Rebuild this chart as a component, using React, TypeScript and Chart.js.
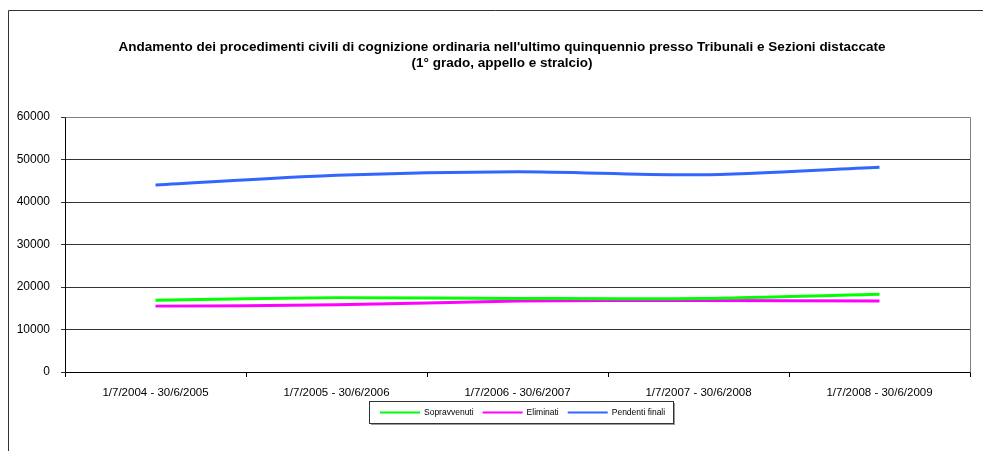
import React, { useEffect, useRef } from "react";
import { Chart, registerables } from "chart.js";

Chart.register(...registerables);

const categories = [
  "1/7/2004 - 30/6/2005",
  "1/7/2005 - 30/6/2006",
  "1/7/2006 - 30/6/2007",
  "1/7/2007 - 30/6/2008",
  "1/7/2008 - 30/6/2009",
];
const sopravvenuti = [16900, 17500, 17300, 17300, 18300];
const eliminati = [15500, 15800, 16700, 16800, 16700];
const pendentiFinali = [44000, 46300, 47100, 46400, 48200];
const seriesNames = ["Sopravvenuti", "Eliminati", "Pendenti finali"];
const yMin = 0;
const yMax = 60000;
const yStep = 10000;
const titleLines = [
  "Andamento dei procedimenti civili di cognizione ordinaria nell'ultimo quinquennio presso Tribunali e Sezioni distaccate",
  "(1° grado, appello e stralcio)",
];

const FONT = "Arial, 'Liberation Sans', sans-serif";

const framePlugin = {
  id: "frame",
  beforeDraw(chart: any) {
    const ctx = chart.ctx;
    ctx.save();
    ctx.fillStyle = "#fff";
    ctx.fillRect(0, 0, chart.width, chart.height);
    ctx.strokeStyle = "#333";
    ctx.lineWidth = 1;
    ctx.beginPath();
    ctx.moveTo(8.5, chart.height);
    ctx.lineTo(8.5, 10.5);
    ctx.lineTo(chart.width, 10.5);
    ctx.stroke();
    // title
    ctx.fillStyle = "#000";
    ctx.font = "bold 13.5px " + FONT;
    ctx.textAlign = "center";
    ctx.textBaseline = "middle";
    titleLines.forEach((t, i) => ctx.fillText(t, 502, 47 + i * 16));
    ctx.restore();
  },
  afterDraw(chart: any) {
    const ctx = chart.ctx;
    const a = chart.chartArea;
    ctx.save();
    ctx.strokeStyle = "#808080";
    ctx.lineWidth = 1;
    ctx.beginPath();
    ctx.moveTo(Math.round(a.left) + 0.5, Math.round(a.top) + 0.5);
    ctx.lineTo(Math.round(a.right) + 0.5, Math.round(a.top) + 0.5);
    ctx.lineTo(Math.round(a.right) + 0.5, Math.round(a.bottom) + 0.5);
    ctx.stroke();

    const ds = chart.data.datasets;
    ctx.font = "8.5px " + FONT;
    const lineLen = 40;
    const gapText = 4;
    const gapItem = 9;
    const padL = 11;
    const padR = 8;
    let total = padL + padR;
    const widths = ds.map((d: any) => ctx.measureText(d.label).width);
    widths.forEach((w: number, i: number) => {
      total += lineLen + gapText + w + (i < ds.length - 1 ? gapItem : 0);
    });
    total = Math.round(total);
    const boxTop = 401;
    const boxH = 22;
    const boxLeft = Math.round((a.left + a.right) / 2 - total / 2) + 3;
    ctx.fillStyle = "#999";
    ctx.fillRect(boxLeft + 2, boxTop + 2, total, boxH);
    ctx.fillStyle = "#fff";
    ctx.fillRect(boxLeft, boxTop, total, boxH);
    ctx.strokeStyle = "#333";
    ctx.strokeRect(boxLeft + 0.5, boxTop + 0.5, total, boxH);
    let x = boxLeft + padL;
    const cy = boxTop + boxH / 2 + 0.5;
    ds.forEach((d: any, i: number) => {
      ctx.strokeStyle = d.borderColor;
      ctx.lineWidth = 2;
      ctx.beginPath();
      ctx.moveTo(x, cy);
      ctx.lineTo(x + lineLen, cy);
      ctx.stroke();
      x += lineLen + gapText;
      ctx.fillStyle = "#000";
      ctx.textBaseline = "middle";
      ctx.textAlign = "left";
      ctx.fillText(d.label, x, cy);
      x += widths[i] + gapItem;
    });
    ctx.restore();
  },
};

export default function App() {
  const ref = useRef<HTMLCanvasElement | null>(null);
  useEffect(() => {
    if (!ref.current) return;
    const chart = new Chart(ref.current, {
      type: "line",
      data: {
        labels: categories,
        datasets: [
          { label: seriesNames[0], data: sopravvenuti, borderColor: "#00ff00", backgroundColor: "#00ff00" },
          { label: seriesNames[1], data: eliminati, borderColor: "#ff00ff", backgroundColor: "#ff00ff" },
          { label: seriesNames[2], data: pendentiFinali, borderColor: "#3366ff", backgroundColor: "#3366ff" },
        ].map((d) => ({ ...d, borderWidth: 3, pointRadius: 0, tension: 0.3, fill: false })),
      },
      options: {
        animation: false,
        responsive: false,
        layout: { padding: { left: 0, right: 13, top: 117, bottom: 0 } },
        plugins: {
          legend: { display: false },
          tooltip: { enabled: false },
          title: { display: false },
        },
        scales: {
          x: {
            offset: true,
            grid: { offset: true, drawOnChartArea: false, drawTicks: true, tickLength: 5, color: "#000" },
            border: { color: "#000" },
            ticks: { color: "#000", font: { family: FONT, size: 11.5 }, padding: 9, maxRotation: 0, autoSkip: false },
            afterFit: (s: any) => { s.height = 79; },
          },
          y: {
            min: yMin,
            max: yMax,
            grid: { color: "#333", tickLength: 4 },
            border: { color: "#000" },
            ticks: {
              stepSize: yStep,
              color: "#000",
              font: { family: FONT, size: 12 },
              padding: 11,
              callback: (v: any) => String(v),
            },
            afterFit: (s: any) => { s.width = 65; },
          },
        },
      },
      plugins: [framePlugin],
    } as any);
    return () => chart.destroy();
  }, []);
  return (
    <div style={{ position: "fixed", left: 0, top: 0, width: 983, height: 451 }}>
      <canvas ref={ref} width={983} height={451} style={{ display: "block" }} />
    </div>
  );
}
